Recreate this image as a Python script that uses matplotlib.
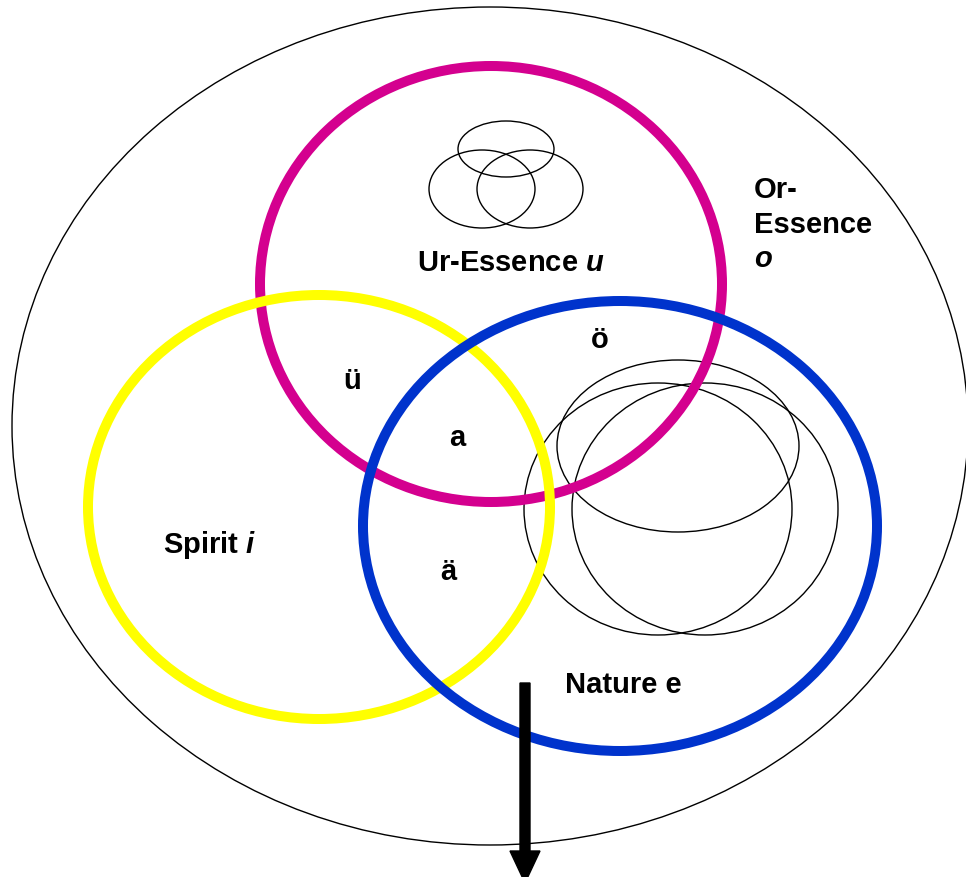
import matplotlib.pyplot as plt
from matplotlib.patches import Ellipse

plt.rcParams['font.family'] = ['Liberation Sans', 'DejaVu Sans']
plt.rcParams['mathtext.fontset'] = 'custom'
plt.rcParams['mathtext.bfit'] = 'Liberation Sans:italic:bold'
plt.rcParams['mathtext.it'] = 'Liberation Sans:italic:bold'

W, H = 966, 878

# big ringed sets: name, center x, center y, half-width, half-height, colour
ring_names = ["Ur-Essence", "Spirit", "Nature"]
ring_cx = [491, 319, 620]
ring_cy = [285, 508, 527]
ring_rx = [231, 231, 257]
ring_ry = [218, 212, 225]
ring_colors = ["#D4008F", "#FFFF00", "#0033CC"]

# thin black ellipses (outer Or-Essence + small clusters)
thin_cx = [490, 506, 482, 530, 678, 658, 705]
thin_cy = [427, 150, 190, 190, 447, 510, 510]
thin_rx = [478, 48, 53, 53, 121, 134, 133]
thin_ry = [419, 28, 39, 39, 86, 126, 126]

# labels
label_text = ["Ur-Essence $\\mathbfit{u}$", "Spirit $\\mathbfit{i}$", "Nature e",
              "ü", "ö", "a", "ä"]
label_x = [511, 210, 623, 352, 600, 457, 448]
label_y = [263, 545, 685, 381, 340, 438, 572]

fig = plt.figure(figsize=(W / 100, H / 100), dpi=100)
ax = fig.add_axes([0, 0, 1, 1])
ax.set_xlim(0, W)
ax.set_ylim(H, 0)
ax.set_aspect('equal')
ax.axis('off')

for cx, cy, rx, ry in zip(thin_cx, thin_cy, thin_rx, thin_ry):
    ax.add_patch(Ellipse((cx, cy), 2 * rx, 2 * ry, fill=False,
                         edgecolor='black', linewidth=1.0))

for cx, cy, rx, ry, c in zip(ring_cx, ring_cy, ring_rx, ring_ry, ring_colors):
    ax.add_patch(Ellipse((cx, cy), 2 * rx, 2 * ry, fill=False,
                         edgecolor=c, linewidth=7.2))

for t, x, y in zip(label_text, label_x, label_y):
    ax.text(x, y, t, ha='center', va='center', fontsize=21,
            fontweight='bold')

# Or-Essence label, left aligned block
ax.text(754, 176, "Or-\nEssence\n$\\mathbfit{o}$", ha='left', va='top',
        fontsize=21, fontweight='bold', linespacing=1.3)

# arrow going down out of the picture
ax.arrow(525, 684, 0, 200, width=10, head_width=30, head_length=32,
         length_includes_head=True, color='black', clip_on=False)

fig.savefig("out.png", dpi=100)
